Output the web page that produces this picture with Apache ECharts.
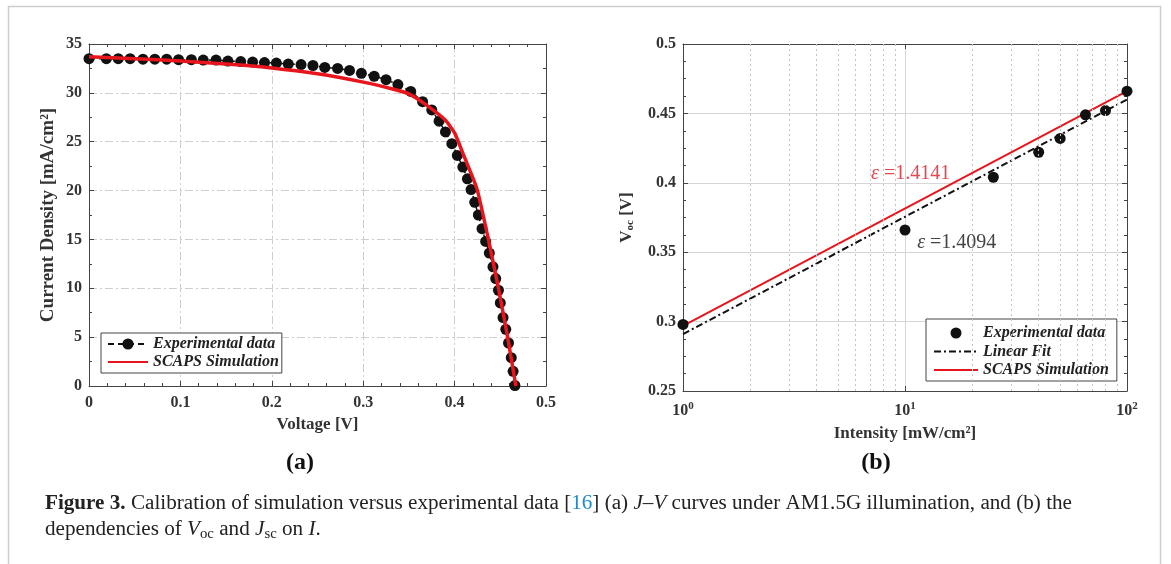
<!DOCTYPE html>
<html>
<head>
<meta charset="utf-8">
<title>Figure 3</title>
<script src="https://cdn.jsdelivr.net/npm/echarts@6/dist/echarts.min.js"></script>
<style>
  html, body { margin: 0; padding: 0; background: #fff; }
  #chart { width: 1171px; height: 564px; }
</style>
</head>
<body>
<div id="chart"></div>
<script>
// (a) J-V curve
const jvVoltage = [0, 0.019, 0.032, 0.045, 0.059, 0.072, 0.085, 0.098, 0.112, 0.125,
  0.139, 0.152, 0.166, 0.179, 0.192, 0.205, 0.218, 0.232, 0.245, 0.258,
  0.272, 0.285, 0.298, 0.312, 0.325, 0.338,
  0.352, 0.365, 0.375, 0.383, 0.390, 0.397, 0.403, 0.409, 0.414, 0.418,
  0.422, 0.426, 0.430, 0.434, 0.438, 0.442, 0.445, 0.448, 0.450, 0.453,
  0.456, 0.459, 0.462, 0.464, 0.466];
const jvCurrent = [33.5, 33.5, 33.5, 33.5, 33.45, 33.45, 33.45, 33.4, 33.4, 33.35,
  33.35, 33.25, 33.2, 33.15, 33.1, 33.05, 32.95, 32.9, 32.8, 32.6,
  32.5, 32.3, 32.0, 31.7, 31.35, 30.85,
  30.15, 29.1, 28.25, 27.1, 26.0, 24.8, 23.6, 22.4, 21.2, 20.1,
  18.8, 17.5, 16.1, 14.8, 13.6, 12.2, 11.0, 9.8, 8.5, 7.0,
  5.8, 4.4, 2.9, 1.5, 0.05];
const simVoltage = [0, 0.05, 0.1, 0.15, 0.2, 0.25, 0.3, 0.33, 0.35, 0.37, 0.39, 0.40, 0.41, 0.42, 0.425, 0.437, 0.448, 0.458, 0.467];
const simCurrent = [33.7, 33.5, 33.25, 32.95, 32.55, 31.95, 31.1, 30.45, 29.9, 28.7, 27.2, 25.9, 23.6, 21.3, 20.0, 15.0, 10.0, 5.0, 0];

// (b) Voc vs intensity
const intensity = [1, 10, 25, 40, 50, 65, 80, 100];
const vocExp = [0.298, 0.366, 0.404, 0.422, 0.432, 0.449, 0.452, 0.466];
const lineX = [1, 100];
const fitVoc = [0.291, 0.460];
const simVoc = [0.297, 0.466];
const minorIntensity = [2, 3, 4, 5, 6, 7, 8, 9, 20, 30, 40, 50, 60, 70, 80, 90];
// annotation anchors [intensity, voc, text]
const epsNotes = [[10.6, 0.4063, '1.4141'], [17.1, 0.3566, '1.4094']];

const legendNames = {
  expA: 'Experimental data', simA: 'SCAPS Simulation',
  expB: 'Experimental data', fitB: 'Linear Fit', simB: 'SCAPS Simulation'
};

const zip = (a, b) => a.map((v, i) => [v, b[i]]);

const FONT = '"Liberation Serif", "DejaVu Serif", serif';
const AX = '#444';
const RED = '#e8161c';

const tickLabel = { fontFamily: FONT, fontWeight: 'bold', fontSize: 16, color: '#333' };
const axName = { fontFamily: FONT, fontWeight: 'bold', fontSize: 17, color: '#333' };
const legendText = { fontFamily: FONT, fontWeight: 'bold', fontStyle: 'italic', fontSize: 16, color: '#222', lineHeight: 16 };

function boxAxis(extra) {
  return Object.assign({
    axisLine: { show: true, onZero: false, lineStyle: { color: AX, width: 1 } },
    axisTick: { show: true, inside: true, length: 5, lineStyle: { color: AX } },
    axisLabel: { show: false },
    splitLine: { show: false }
  }, extra);
}

const chart = echarts.init(document.getElementById('chart'), null, { renderer: 'canvas' });

const option = {
  animation: false,
  backgroundColor: '#fff',
  grid: [
    { left: 89, top: 44, width: 457, height: 342 },
    { left: 683, top: 44, width: 444, height: 347 }
  ],
  legend: [
    {
      orient: 'vertical', left: 101, top: 333,
      data: ['expA', { name: 'simA', itemStyle: { opacity: 0 } }],
      formatter: n => legendNames[n],
      itemWidth: 40, itemHeight: 14, itemGap: 2,
      padding: [3, 3, 3, 6],
      borderColor: AX, borderWidth: 1, backgroundColor: '#fff',
      selectedMode: false,
      textStyle: legendText
    },
    {
      orient: 'vertical', left: 926, top: 319,
      data: ['expB', { name: 'fitB', itemStyle: { opacity: 0 } }, { name: 'simB', itemStyle: { opacity: 0 } }],
      formatter: n => legendNames[n],
      itemWidth: 44, itemHeight: 11, itemGap: 2.5,
      padding: [6, 8, 3, 7],
      borderColor: AX, borderWidth: 1, backgroundColor: '#fff',
      selectedMode: false,
      textStyle: legendText
    }
  ],
  xAxis: [
    boxAxis({
      type: 'value', gridIndex: 0, min: 0, max: 0.5, interval: 0.1,
      minorTick: { show: true, splitNumber: 5, length: 3, lineStyle: { color: AX } },
      axisLabel: Object.assign({ show: true, margin: 9 }, tickLabel),
      splitLine: { show: true, lineStyle: { color: '#cfcfcf', type: [8, 3, 2, 3] } },
      name: 'Voltage [V]', nameLocation: 'middle', nameGap: 30, nameTextStyle: axName
    }),
    boxAxis({
      type: 'value', gridIndex: 0, position: 'top', min: 0, max: 0.5, interval: 0.1,
      minorTick: { show: true, splitNumber: 5, length: 3, lineStyle: { color: AX } }
    }),
    boxAxis({
      type: 'log', logBase: 10, gridIndex: 1, min: 1, max: 100,
      axisLabel: Object.assign({
        show: true, margin: 10,
        formatter: v => '{b|10}{s|' + Math.round(Math.log10(v)) + '}',
        rich: {
          b: { fontFamily: FONT, fontWeight: 'bold', fontSize: 16, color: '#333' },
          s: { fontFamily: FONT, fontWeight: 'bold', fontSize: 11, color: '#333', padding: [0, 0, 9, 0] }
        }
      }, tickLabel),
      splitLine: { show: true, lineStyle: { color: '#d6d6d6', width: 1 } },
      name: 'Intensity [mW/cm²]', nameLocation: 'middle', nameGap: 34, nameTextStyle: axName
    }),
    boxAxis({
      type: 'log', logBase: 10, gridIndex: 1, position: 'top', min: 1, max: 100
    })
  ],
  yAxis: [
    boxAxis({
      type: 'value', gridIndex: 0, min: 0, max: 35, interval: 5,
      minorTick: { show: true, splitNumber: 2, length: 3, lineStyle: { color: AX } },
      axisLabel: Object.assign({ show: true, margin: 7 }, tickLabel),
      splitLine: { show: true, lineStyle: { color: '#cfcfcf', type: [8, 3, 2, 3] } },
      name: 'Current Density [mA/cm²]', nameLocation: 'middle', nameGap: 31,
      nameTextStyle: Object.assign({}, axName, { fontSize: 19 })
    }),
    boxAxis({
      type: 'value', gridIndex: 0, position: 'right', min: 0, max: 35, interval: 5,
      minorTick: { show: true, splitNumber: 2, length: 3, lineStyle: { color: AX } }
    }),
    boxAxis({
      type: 'value', gridIndex: 1, min: 0.25, max: 0.5, interval: 0.05,
      minorTick: { show: true, splitNumber: 4, length: 3, lineStyle: { color: AX } },
      axisLabel: Object.assign({ show: true, margin: 7 }, tickLabel),
      splitLine: { show: true, lineStyle: { color: '#d6d6d6', width: 1 } },
      name: '{v|V}{s|oc}{v| [V]}', nameLocation: 'middle', nameGap: 47,
      nameTextStyle: {
        rich: {
          v: { fontFamily: FONT, fontWeight: 'bold', fontSize: 17, color: '#333' },
          s: { fontFamily: FONT, fontWeight: 'bold', fontSize: 11, color: '#333', padding: [7, 0, 0, 0] }
        }
      }
    }),
    boxAxis({
      type: 'value', gridIndex: 1, position: 'right', min: 0.25, max: 0.5, interval: 0.05,
      minorTick: { show: true, splitNumber: 4, length: 3, lineStyle: { color: AX } }
    })
  ],
  series: [
    {
      name: 'expA', type: 'line', xAxisIndex: 0, yAxisIndex: 0,
      data: zip(jvVoltage, jvCurrent),
      symbol: 'circle', symbolSize: 11, showAllSymbol: true,
      itemStyle: { color: '#111', opacity: 1 },
      lineStyle: { color: '#111', width: 1.5, type: [6, 4] },
      z: 2
    },
    {
      name: 'simA', type: 'line', xAxisIndex: 0, yAxisIndex: 0,
      data: zip(simVoltage, simCurrent),
      symbol: 'none', smooth: 0.15,
      itemStyle: { color: RED },
      lineStyle: { color: RED, width: 3.5 },
      z: 3
    },
    {
      name: 'minor', type: 'line', xAxisIndex: 2, yAxisIndex: 2,
      data: [], z: 1, silent: true,
      markLine: {
        silent: true, symbol: ['none', 'none'], label: { show: false },
        lineStyle: { type: [2, 3], color: '#c4c4c4', width: 1 },
        emphasis: { disabled: true },
        data: minorIntensity.map(v => ({ xAxis: v }))
      }
    },
    {
      name: 'expB', type: 'scatter', xAxisIndex: 2, yAxisIndex: 2,
      data: zip(intensity, vocExp),
      symbol: 'circle', symbolSize: 11,
      itemStyle: { color: '#111', opacity: 1 },
      z: 4
    },
    {
      name: 'fitB', type: 'line', xAxisIndex: 2, yAxisIndex: 2,
      data: zip(lineX, fitVoc), symbol: 'none',
      itemStyle: { color: '#111' },
      lineStyle: { color: '#111', width: 2, type: [7, 3, 2, 3] },
      z: 3
    },
    {
      name: 'simB', type: 'line', xAxisIndex: 2, yAxisIndex: 2,
      data: zip(lineX, simVoc), symbol: 'none',
      itemStyle: { color: RED },
      lineStyle: { color: RED, width: 2 },
      z: 3,
      markPoint: {
        symbol: 'circle', symbolSize: 0, silent: true,
        label: { show: true, position: 'inside', fontFamily: FONT, fontSize: 20 },
        data: epsNotes.map((n, i) => {
          const col = i === 0 ? '#e8474e' : '#444';
          return {
            coord: [n[0], n[1]],
            label: {
              formatter: '{e|ε} {t|=' + n[2] + '}',
              color: col,
              rich: {
                e: { fontFamily: FONT, fontStyle: 'italic', fontSize: 20, color: col },
                t: { fontFamily: FONT, fontSize: 20, color: col }
              }
            }
          };
        })
      }
    }
  ],
  graphic: [
    {
      type: 'rect', silent: true, z: -10,
      shape: { x: 8.5, y: 6.5, width: 1152, height: 640 },
      style: { fill: 'none', stroke: '#cdcdcd', lineWidth: 1.5 }
    },
    {
      type: 'text', x: 300, y: 463, silent: true,
      style: { text: '(a)', fontFamily: FONT, fontWeight: 'bold', fontSize: 24, fill: '#111', align: 'center', verticalAlign: 'middle' }
    },
    {
      type: 'text', x: 876, y: 463, silent: true,
      style: { text: '(b)', fontFamily: FONT, fontWeight: 'bold', fontSize: 24, fill: '#111', align: 'center', verticalAlign: 'middle' }
    },
    {
      type: 'text', x: 45, y: 504, scaleX: 1.057, silent: true,
      style: {
        text: '{b|Figure 3.} Calibration of simulation versus experimental data [{c|16}] (a) {i|J}–{i|V} curves under AM1.5G illumination, and (b) the',
        fontFamily: FONT, fontSize: 20, fill: '#222', verticalAlign: 'middle',
        rich: {
          b: { fontFamily: FONT, fontWeight: 'bold', fontSize: 20, fill: '#222' },
          c: { fontFamily: FONT, fontSize: 20, fill: '#1f8ac6' },
          i: { fontFamily: FONT, fontStyle: 'italic', fontSize: 20, fill: '#222' }
        }
      }
    },
    {
      type: 'text', x: 45, y: 530, scaleX: 1.057, silent: true,
      style: {
        text: 'dependencies of {i|V}{s|oc} and {i|J}{s|sc} on {i|I}.',
        fontFamily: FONT, fontSize: 20, fill: '#222', verticalAlign: 'middle',
        rich: {
          i: { fontFamily: FONT, fontStyle: 'italic', fontSize: 20, fill: '#222' },
          s: { fontFamily: FONT, fontSize: 14, fill: '#222', padding: [8, 0, 0, 0] }
        }
      }
    }
  ]
};

chart.setOption(option);
</script>
</body>
</html>
